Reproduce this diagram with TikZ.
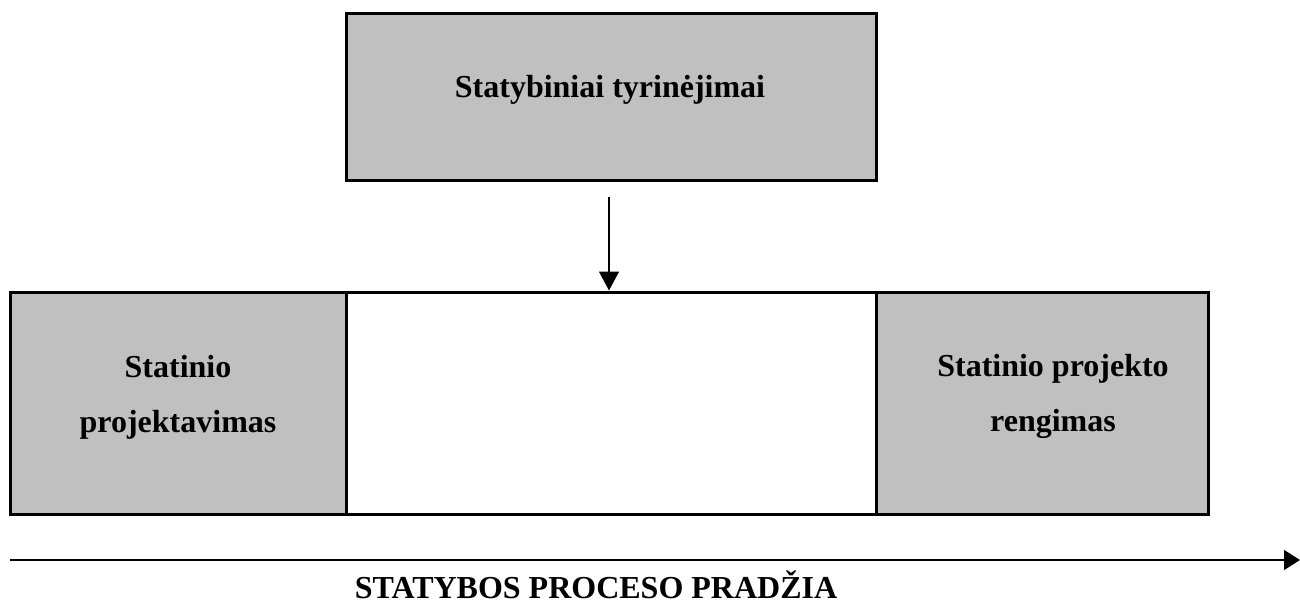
\documentclass[tikz,border=0pt]{standalone}
\usepackage{fontspec}
\setmainfont{Liberation Serif}
\usetikzlibrary{arrows.meta}
\definecolor{boxgray}{HTML}{C0C0C0}
\begin{document}
\begin{tikzpicture}[x=1pt,y=-1pt,
  gbox/.style={draw=black, line width=3pt, fill=boxgray, inner sep=0pt},
  wbox/.style={draw=black, line width=3pt, fill=white, inner sep=0pt},
  lbl/.style={font=\bfseries\fontsize{32}{55}\selectfont, inner sep=0pt, align=center},
  arr/.style={draw=black, line width=1.4pt, -{Triangle[width=20pt,length=19pt]}}]
\useasboundingbox (0,0) rectangle (1300,604);
% top box
\node[gbox, minimum width=530pt, minimum height=167pt] (top) at (611,97.5) {};
\node[lbl, anchor=base] (toptxt) at (610,98) {Statybiniai tyrinėjimai};
% bottom row
\node[wbox, minimum width=530pt, minimum height=222pt] (mid) at (611,403) {};
\node[gbox, minimum width=336pt, minimum height=222pt] (left) at (178,403) {};
\node[gbox, minimum width=332pt, minimum height=222pt] (right) at (1042,403) {};
\node[lbl] (lefttxt) at (178,397) {Statinio\\projektavimas};
\node[lbl] (righttxt) at (1053,396) {Statinio projekto\\rengimas};
% vertical arrow
\coordinate (a1) at (609,197);
\draw[arr] (a1) -- (a1 |- mid.north);
% horizontal arrow
\coordinate (hs) at (10,560);
\coordinate (he) at (1300,560);
\draw[draw=black, line width=1.4pt, -{Triangle[width=20pt,length=16pt]}] (hs) -- (he);
\node[lbl, anchor=base] (bottomtxt) at (596,598) {STATYBOS PROCESO PRADŽIA};
\end{tikzpicture}
\end{document}
